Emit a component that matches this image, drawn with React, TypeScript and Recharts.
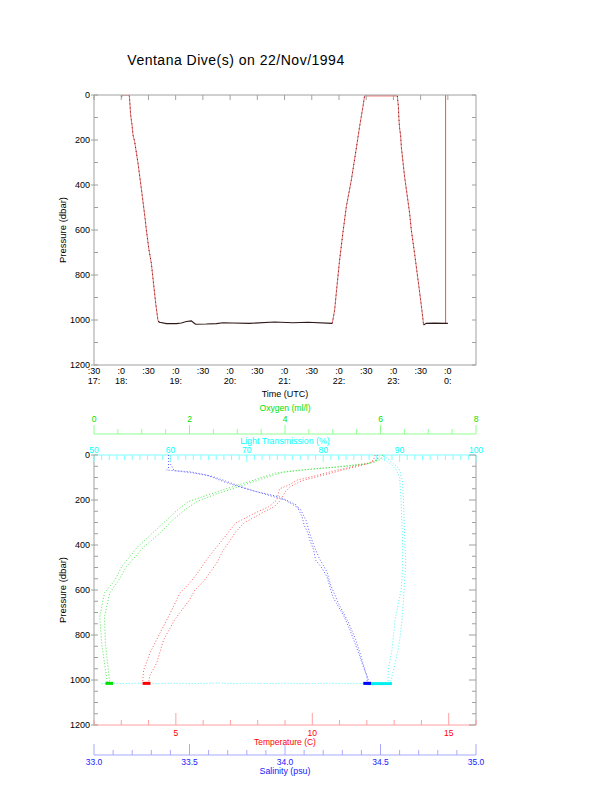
import React from 'react';
import { LineChart, Line, XAxis, YAxis, ScatterChart, Scatter } from 'recharts';

const FONT = '"Liberation Sans", Arial, Helvetica, sans-serif';
const GRAY = '#a0a0a0';

// ---------- Top panel: pressure vs time (minutes after 00:00 UTC) ----------
const timeTicks = [1050, 1080, 1110, 1140, 1170, 1200, 1230, 1260, 1290, 1320, 1350, 1380, 1410, 1440];
const pTicksTop = [0, 100, 200, 300, 400, 500, 600, 700, 800, 900, 1000, 1100, 1200];

const startMark = [{ t: 1080.5, p: 2 }, { t: 1080.5, p: 10 }];
const surfaceStart = [{ t: 1081, p: 2 }, { t: 1088.9, p: 2 }];
const descent1 = [
  { t: 1088.9, p: 2 }, { t: 1089.3, p: 22 }, { t: 1090.4, p: 89 }, { t: 1091.9, p: 133 },
  { t: 1093.0, p: 178 }, { t: 1094.8, p: 207 }, { t: 1098.5, p: 303 }, { t: 1103.3, p: 452 },
  { t: 1106.5, p: 555 }, { t: 1107.7, p: 600 }, { t: 1110.6, p: 689 }, { t: 1113.2, p: 748 },
  { t: 1118.0, p: 926 }, { t: 1120.5, p: 1003 }, { t: 1122.4, p: 1010 },
];
const bottom1 = [
  { t: 1120.5, p: 1007 }, { t: 1122.4, p: 1010 }, { t: 1129.8, p: 1016 }, { t: 1140.8, p: 1016 },
  { t: 1146.3, p: 1013 }, { t: 1151.8, p: 1007 }, { t: 1157.3, p: 1004 }, { t: 1159.8, p: 1012 },
  { t: 1162.0, p: 1019 }, { t: 1173.8, p: 1018 }, { t: 1184.8, p: 1016 }, { t: 1192.1, p: 1012 },
  { t: 1203.1, p: 1013 }, { t: 1221.5, p: 1015 }, { t: 1249.1, p: 1009 }, { t: 1269.2, p: 1012 },
  { t: 1285.8, p: 1010 }, { t: 1312.6, p: 1015 },
];
const ascent1 = [
  { t: 1312.6, p: 1015 }, { t: 1315.2, p: 956 }, { t: 1317.7, p: 852 }, { t: 1320.7, p: 733 },
  { t: 1324.3, p: 613 }, { t: 1328.1, p: 496 }, { t: 1333.6, p: 378 }, { t: 1338.3, p: 258 },
  { t: 1342.7, p: 141 }, { t: 1346.4, p: 52 }, { t: 1348.2, p: 4 },
];
const surfaceMid = [{ t: 1348.2, p: 4 }, { t: 1384.3, p: 4 }];
const descent2 = [
  { t: 1384.3, p: 4 }, { t: 1384.9, p: 30 }, { t: 1385.5, p: 52 }, { t: 1386.0, p: 104 },
  { t: 1386.8, p: 148 }, { t: 1387.9, p: 178 }, { t: 1388.7, p: 230 }, { t: 1392.3, p: 363 },
  { t: 1397.8, p: 524 }, { t: 1399.7, p: 600 }, { t: 1403.3, p: 704 }, { t: 1408.1, p: 852 },
  { t: 1411.8, p: 970 }, { t: 1413.2, p: 1022 },
];
const bottom2 = [
  { t: 1413.2, p: 1022 }, { t: 1416.2, p: 1015 }, { t: 1425.0, p: 1014 }, { t: 1437.5, p: 1015 },
  { t: 1440.0, p: 1015 },
];
const finalRise = [{ t: 1437.5, p: 1015 }, { t: 1437.5, p: 0 }];

// ---------- Bottom panel: profiles vs pressure ([pressure, value]) ----------
const pTicksBottom = [0, 50, 100, 150, 200, 250, 300, 350, 400, 450, 500, 550, 600, 650, 700, 750, 800, 850, 900, 950, 1000, 1050, 1100, 1150, 1200];
const tempTicks = [2, 3, 4, 5, 6, 7, 8, 9, 10, 11, 12, 13, 14, 15, 16];
const tempLabels = [5, 10, 15];
const salTicks = [33.0, 33.1, 33.2, 33.3, 33.4, 33.5, 33.6, 33.7, 33.8, 33.9, 34.0, 34.1, 34.2, 34.3, 34.4, 34.5, 34.6, 34.7, 34.8, 34.9, 35.0];
const salLabels = [33.0, 33.5, 34.0, 34.5, 35.0];
const oxyTicks = [0, 0.5, 1, 1.5, 2, 2.5, 3, 3.5, 4, 4.5, 5, 5.5, 6, 6.5, 7, 7.5, 8];
const oxyLabels = [0, 2, 4, 6, 8];
const ltTicks = [50, 51, 52, 53, 54, 55, 56, 57, 58, 59, 60, 61, 62, 63, 64, 65, 66, 67, 68, 69, 70, 71, 72, 73, 74, 75, 76, 77, 78, 79, 80, 81, 82, 83, 84, 85, 86, 87, 88, 89, 90, 91, 92, 93, 94, 95, 96, 97, 98, 99, 100];
const ltLabels = [50, 60, 70, 80, 90, 100];

const tempA = [
  [0, 12.3], [20, 12.25], [36, 12.1], [44, 11.75], [60, 11.2], [67, 10.9], [80, 10.5], [96, 10.0],
  [111, 9.45], [133, 9.15], [150, 8.8], [200, 8.7], [230, 8.4], [258, 7.9], [302, 7.2], [340, 6.95],
  [378, 6.7], [453, 6.2], [524, 5.8], [570, 5.5], [613, 5.15], [702, 4.8], [791, 4.42], [880, 4.05],
  [956, 3.82], [1008, 3.78],
];
const tempB = [
  [0, 12.4], [20, 12.38], [40, 12.0], [52, 11.6], [67, 11.1], [80, 10.7], [96, 10.2], [115, 9.6],
  [140, 9.2], [165, 9.0], [200, 8.85], [230, 8.6], [258, 8.15], [302, 7.5], [340, 7.2], [378, 7.0],
  [420, 6.75], [480, 6.5], [556, 6.05], [600, 5.7], [644, 5.5], [733, 4.95], [822, 4.55], [924, 4.3],
  [980, 4.05], [1010, 4.0],
];
const salA = [
  [0, 33.39], [30, 33.39], [60, 33.39], [67, 33.38], [74, 33.5], [89, 33.59], [119, 33.68], [141, 33.76],
  [163, 33.85], [186, 33.97], [222, 34.06], [276, 34.09], [311, 34.1], [347, 34.12], [378, 34.13],
  [422, 34.15], [467, 34.16], [498, 34.19], [541, 34.22], [630, 34.25], [719, 34.31], [778, 34.34],
  [867, 34.38], [941, 34.41], [985, 34.43], [1010, 34.43],
];
const salB = [
  [0, 33.4], [40, 33.4], [70, 33.42], [80, 33.52], [95, 33.62], [125, 33.72], [150, 33.8], [175, 33.9],
  [200, 34.0], [240, 34.08], [290, 34.11], [350, 34.13], [400, 34.15], [460, 34.18], [520, 34.22],
  [580, 34.24], [660, 34.28], [740, 34.33], [820, 34.37], [900, 34.4], [960, 34.42], [1010, 34.44],
];
const oxyA = [
  [0, 5.92], [15, 5.95], [30, 5.9], [40, 5.7], [50, 5.3], [58, 4.8], [66, 4.4], [75, 4.0], [100, 3.6],
  [140, 3.05], [170, 2.6], [207, 2.15], [244, 1.9], [289, 1.65], [348, 1.38], [407, 1.05], [496, 0.68],
  [556, 0.52], [613, 0.33], [719, 0.22], [837, 0.24], [956, 0.3], [1010, 0.33],
];
const oxyB = [
  [0, 6.05], [20, 6.0], [35, 5.8], [45, 5.4], [55, 5.0], [62, 4.6], [70, 4.2], [80, 3.8], [111, 3.35],
  [141, 2.9], [169, 2.5], [207, 1.98], [244, 1.75], [289, 1.52], [348, 1.22], [407, 0.92], [496, 0.58],
  [556, 0.44], [613, 0.22], [719, 0.12], [837, 0.16], [956, 0.24], [1010, 0.28],
];
const ltA = [
  [0, 87.5], [10, 88.2], [25, 88.7], [45, 89.4], [60, 89.9], [77, 90.1], [120, 90.4], [200, 90.5],
  [300, 90.6], [400, 90.7], [468, 90.8], [541, 90.7], [649, 90.5], [733, 90.3], [800, 90.1],
  [867, 89.8], [956, 89.2], [1000, 88.9], [1010, 88.7],
];
const ltB = [
  [0, 87.0], [15, 87.6], [40, 88.9], [67, 89.6], [100, 90.0], [200, 90.2], [300, 90.3], [400, 90.4],
  [500, 90.4], [600, 90.2], [650, 89.9], [733, 89.4], [800, 89.2], [867, 89.0], [956, 88.5], [1010, 88.5],
];
const ltBottom = [
  [1016, 51.0], [1015, 52.5], [1016, 54.0], [1014, 55.5], [1015, 57.0], [1016, 58.5], [1014, 60.0],
  [1015, 61.5], [1016, 63.0], [1015, 64.5], [1013, 66.0], [1015, 67.5], [1016, 69.0], [1014, 70.5],
  [1015, 72.0], [1016, 73.5], [1014, 75.0], [1015, 76.5], [1016, 78.0], [1015, 79.5], [1014, 81.0],
  [1016, 82.5], [1015, 84.0], [1016, 85.5], [1015, 87.0], [1016, 88.5],
];
const oxyCluster = [[1015, 0.24], [1015, 0.4]];
const tempCluster = [[1015, 3.78], [1015, 4.07]];
const salCluster = [[1015, 34.41], [1015, 34.45]];
const ltCluster = [[1016, 85.7], [1016, 89.0]];

const pts = (rows: number[][]) => rows.map(([p, v]) => ({ p, v }));
const near = (a: number, list: number[]) => list.some((b) => Math.abs(a - b) < 1e-6);

const RED = '#ff6060';
const BLUE = '#6060ff';
const GREEN = '#50e850';
const CYAN = '#50f8f8';

// ---------- tick renderers ----------
const TimeTick = (props: any) => {
  const { x, y, payload } = props;
  const m = payload.value;
  const h = Math.floor(m / 60) % 24;
  const mm = m % 60;
  const showHour = mm === 0 || m === timeTicks[0];
  return (
    <g fontFamily={FONT} fontSize={9} fill="#000">
      <text x={x} y={y + 8.5} textAnchor="middle" fill="#000">{':' + mm}</text>
      {showHour && <text x={x} y={y + 19} textAnchor="middle" fill="#000">{h + ':'}</text>}
    </g>
  );
};
const TopTimeTick = (props: any) => {
  const { x, y } = props;
  return <line x1={x} x2={x} y1={y} y2={y + 5} stroke={GRAY} />;
};
const makeLeftTick = (labels: number) => (props: any) => {
  const { x, y, payload } = props;
  const v = payload.value;
  const isLab = v % labels === 0;
  return (
    <g>
      <line x1={isLab ? x - 3 : x} x2={x + 4} y1={y} y2={y} stroke={GRAY} />
      {isLab && (
        <text x={x - 4} y={y + 3} textAnchor="end" fontSize={9} fontFamily={FONT} fill="#000">{v}</text>
      )}
    </g>
  );
};
const makeRightTick = (major: number, majorLen: number) => (props: any) => {
  const { x, y, payload } = props;
  const len = payload.value % major === 0 ? majorLen : 4;
  return <line x1={x} x2={x - len} y1={y} y2={y} stroke={GRAY} />;
};
const makeAxisTick = (
  labels: number[], lineColor: string, textColor: string, dir: number,
  majorLen: number, minorLen: number, labelDy: number, fmt: (v: number) => string
) => (props: any) => {
  const { x, y, payload } = props;
  const v = payload.value;
  const isLab = near(v, labels);
  const len = isLab ? majorLen : minorLen;
  return (
    <g>
      <line x1={x} x2={x} y1={y} y2={y + dir * len} stroke={lineColor} />
      {isLab && (
        <text x={x} y={y + labelDy} textAnchor="middle" fontSize={8.5} fontFamily={FONT} fill={textColor}>{fmt(v)}</text>
      )}
    </g>
  );
};

const noDot = () => <g />;
const dotted = (c: string) => ({ stroke: c, strokeWidth: 1, strokeDasharray: '1 2' });

function TopChart() {
  return (
    <LineChart width={612} height={410} margin={{ top: 85, right: 126, bottom: 5, left: 54 }}>
      <XAxis xAxisId="b" orientation="bottom" type="number" dataKey="t" domain={[1050, 1471]} allowDataOverflow
        ticks={timeTicks} interval={0} tick={TimeTick} tickLine={false} tickSize={0} tickMargin={0}
        axisLine={{ stroke: GRAY }} height={40} />
      <XAxis xAxisId="t" orientation="top" type="number" dataKey="t" domain={[1050, 1471]} allowDataOverflow
        ticks={timeTicks} interval={0} tick={TopTimeTick} tickLine={false} tickSize={0} tickMargin={0}
        axisLine={{ stroke: GRAY }} height={10} />
      <YAxis yAxisId="l" orientation="left" type="number" domain={[0, 1200]} reversed allowDataOverflow
        ticks={pTicksTop} interval={0} tick={makeLeftTick(200)} tickLine={false} tickSize={0} tickMargin={0}
        axisLine={{ stroke: GRAY }} width={40} />
      <YAxis yAxisId="r" orientation="right" type="number" domain={[0, 1200]} reversed allowDataOverflow
        ticks={pTicksTop} interval={0} tick={makeRightTick(100, 4)} tickLine={false} tickSize={0} tickMargin={0}
        axisLine={{ stroke: GRAY }} width={10} />
      <Line xAxisId="t" yAxisId="r" data={surfaceStart} dataKey="p" stroke="none" dot={false} isAnimationActive={false} />
      <Line xAxisId="b" yAxisId="l" type="linear" data={surfaceStart} dataKey="p" stroke="#f7a0a0" dot={false} isAnimationActive={false} />
      <Line xAxisId="b" yAxisId="l" type="linear" data={startMark} dataKey="p" stroke="#402020" dot={false} isAnimationActive={false} />
      <Line xAxisId="b" yAxisId="l" type="linear" data={surfaceMid} dataKey="p" stroke="#f06060" strokeWidth={1} dot={false} isAnimationActive={false} />
      <Line xAxisId="b" yAxisId="l" type="linear" data={finalRise} dataKey="p" stroke="#f05050" strokeWidth={1} dot={false} isAnimationActive={false} />
      {[descent1, ascent1, descent2].map((d, i) => (
        <Line key={'r' + i} xAxisId="b" yAxisId="l" type="linear" data={d} dataKey="p" stroke="#f07070" strokeWidth={1} dot={false} isAnimationActive={false} />
      ))}
      {[descent1, ascent1, descent2].map((d, i) => (
        <Line key={'k' + i} xAxisId="b" yAxisId="l" type="linear" data={d} dataKey="p" stroke="#602828" strokeWidth={1} strokeDasharray="1 3" dot={false} isAnimationActive={false} />
      ))}
      {[bottom1, bottom2].map((d, i) => (
        <Line key={'b' + i} xAxisId="b" yAxisId="l" type="linear" data={d} dataKey="p" stroke="#301818" strokeWidth={1.1} dot={false} isAnimationActive={false} />
      ))}
    </LineChart>
  );
}

function BottomChart() {
  return (
    <ScatterChart width={612} height={385} margin={{ top: 14, right: 126, bottom: 10, left: 54 }}>
      <XAxis xAxisId="L1" orientation="top" type="number" dataKey="v" domain={[50, 100]} allowDataOverflow
        ticks={ltTicks} interval={0} tickLine={false} tickSize={0} tickMargin={0} height={21}
        axisLine={{ stroke: '#80ffff' }}
        tick={makeAxisTick(ltLabels, '#80ffff', '#00ffff', 1, 7, 5, -2.5, (v) => String(v))} />
      <XAxis xAxisId="L2" orientation="top" type="number" dataKey="v" domain={[0, 8]} allowDataOverflow
        ticks={oxyTicks} interval={0} tickLine={false} tickSize={0} tickMargin={0} height={20}
        axisLine={{ stroke: '#90ff90' }}
        tick={makeAxisTick(oxyLabels, '#90ff90', '#00e000', -1, 9, 5, -12.5, (v) => String(v))} />
      <XAxis xAxisId="T1" orientation="bottom" type="number" dataKey="v" domain={[2, 16]} allowDataOverflow
        ticks={tempTicks} interval={0} tickLine={false} tickSize={0} tickMargin={0} height={30}
        axisLine={{ stroke: '#ffa0a0' }}
        tick={makeAxisTick(tempLabels, '#ffa0a0', '#ff0000', -1, 12, 5, 11, (v) => String(v))} />
      <XAxis xAxisId="T2" orientation="bottom" type="number" dataKey="v" domain={[33, 35]} allowDataOverflow
        ticks={salTicks} interval={0} tickLine={false} tickSize={0} tickMargin={0} height={20}
        axisLine={{ stroke: '#a8a8ff' }}
        tick={makeAxisTick(salLabels, '#a8a8ff', '#2020ff', -1, 11, 5, 9.5, (v) => v.toFixed(1))} />
      <YAxis yAxisId="P" orientation="left" type="number" dataKey="p" domain={[0, 1200]} reversed allowDataOverflow
        ticks={pTicksBottom} interval={0} tick={makeLeftTick(200)} tickLine={false} tickSize={0} tickMargin={0}
        axisLine={{ stroke: GRAY }} width={40} />
      <YAxis yAxisId="R" orientation="right" type="number" dataKey="p" domain={[0, 1200]} reversed allowDataOverflow
        ticks={pTicksBottom} interval={0} tick={makeRightTick(200, 7)} tickLine={false} tickSize={0} tickMargin={0}
        axisLine={{ stroke: GRAY }} width={10} />
      <Scatter xAxisId="T1" yAxisId="R" data={pts([[0, 2]])} shape={noDot} isAnimationActive={false} />
      <Scatter xAxisId="L1" yAxisId="P" data={pts(ltBottom)} line={dotted(CYAN)} lineType="joint" shape={noDot} isAnimationActive={false} />
      <Scatter xAxisId="L1" yAxisId="P" data={pts(ltA)} line={dotted(CYAN)} lineType="joint" shape={noDot} isAnimationActive={false} />
      <Scatter xAxisId="L1" yAxisId="P" data={pts(ltB)} line={dotted(CYAN)} lineType="joint" shape={noDot} isAnimationActive={false} />
      <Scatter xAxisId="L2" yAxisId="P" data={pts(oxyA)} line={dotted(GREEN)} lineType="joint" shape={noDot} isAnimationActive={false} />
      <Scatter xAxisId="L2" yAxisId="P" data={pts(oxyB)} line={dotted(GREEN)} lineType="joint" shape={noDot} isAnimationActive={false} />
      <Scatter xAxisId="T1" yAxisId="P" data={pts(tempA)} line={dotted(RED)} lineType="joint" shape={noDot} isAnimationActive={false} />
      <Scatter xAxisId="T1" yAxisId="P" data={pts(tempB)} line={dotted(RED)} lineType="joint" shape={noDot} isAnimationActive={false} />
      <Scatter xAxisId="T2" yAxisId="P" data={pts(salA)} line={dotted(BLUE)} lineType="joint" shape={noDot} isAnimationActive={false} />
      <Scatter xAxisId="T2" yAxisId="P" data={pts(salB)} line={dotted(BLUE)} lineType="joint" shape={noDot} isAnimationActive={false} />
      <Scatter xAxisId="L1" yAxisId="P" data={pts(ltCluster)} line={{ stroke: '#00f0f0', strokeWidth: 3 }} lineType="joint" shape={noDot} isAnimationActive={false} />
      <Scatter xAxisId="L2" yAxisId="P" data={pts(oxyCluster)} line={{ stroke: '#00e000', strokeWidth: 3 }} lineType="joint" shape={noDot} isAnimationActive={false} />
      <Scatter xAxisId="T1" yAxisId="P" data={pts(tempCluster)} line={{ stroke: '#ff0000', strokeWidth: 3 }} lineType="joint" shape={noDot} isAnimationActive={false} />
      <Scatter xAxisId="T2" yAxisId="P" data={pts(salCluster)} line={{ stroke: '#0000ff', strokeWidth: 3 }} lineType="joint" shape={noDot} isAnimationActive={false} />
    </ScatterChart>
  );
}

export default function App() {
  return (
    <div style={{ position: 'absolute', left: 0, top: 0, width: 612, height: 785, background: '#fff', overflow: 'hidden' }}>
      <div style={{ position: 'absolute', left: 0, top: 0 }}>
        <TopChart />
      </div>
      <div style={{ position: 'absolute', left: 0, top: 400 }}>
        <BottomChart />
      </div>
      <svg width={612} height={785} style={{ position: 'absolute', left: 0, top: 0, pointerEvents: 'none' }} fontFamily={FONT}>
        <text x={236} y={64.5} textAnchor="middle" fontSize={14} letterSpacing={0.5} fill="#000">Ventana Dive(s) on 22/Nov/1994</text>
        <text transform="translate(65.5,230) rotate(-90)" textAnchor="middle" fontSize={9.5} fill="#000">Pressure (dbar)</text>
        <text x={285} y={397} textAnchor="middle" fontSize={9} fill="#000">Time (UTC)</text>
        <text transform="translate(65.5,590) rotate(-90)" textAnchor="middle" fontSize={9.5} fill="#000">Pressure (dbar)</text>
        <text x={285} y={410.5} textAnchor="middle" fontSize={8.6} fill="#00e000">Oxygen (ml/l)</text>
        <text x={285} y={444} textAnchor="middle" fontSize={8.8} fill="#00ffff">Light Transmission (%)</text>
        <text x={285} y={745} textAnchor="middle" fontSize={8.5} fill="#ff0000">Temperature (C)</text>
        <text x={285} y={773.5} textAnchor="middle" fontSize={8.8} fill="#2020ff">Salinity (psu)</text>
      </svg>
    </div>
  );
}
